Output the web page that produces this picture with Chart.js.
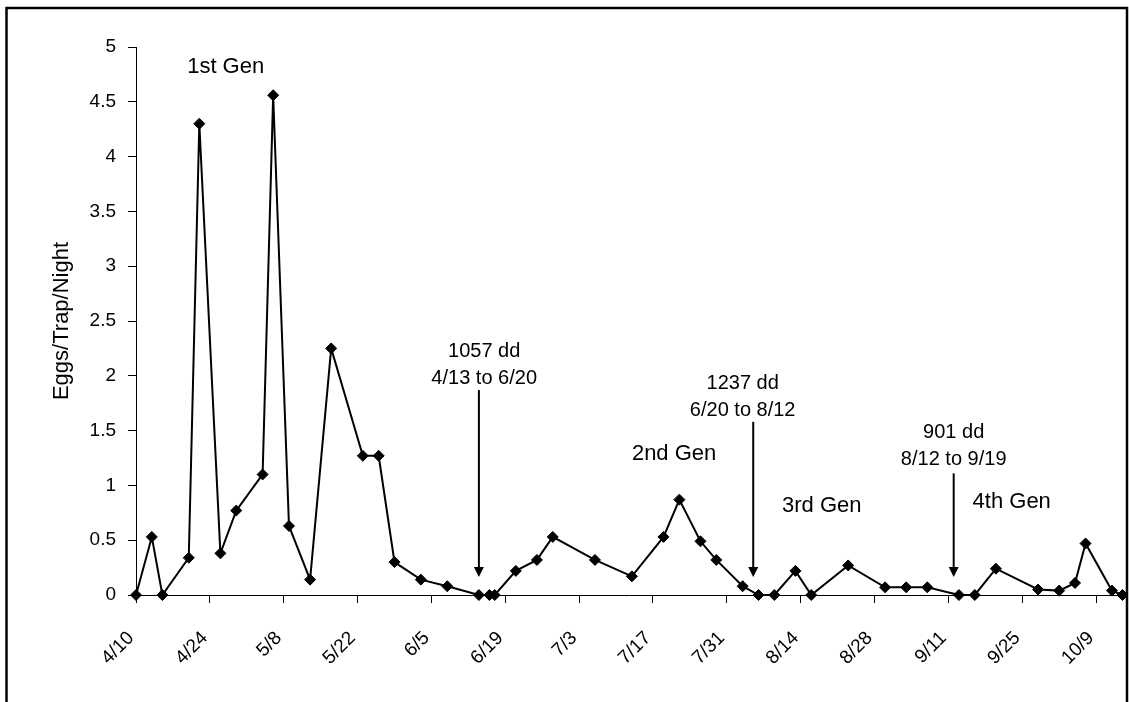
<!DOCTYPE html>
<html>
<head>
<meta charset="utf-8">
<title>Eggs/Trap/Night</title>
<script src="https://cdn.jsdelivr.net/npm/chart.js@4.4.1/dist/chart.umd.min.js"></script>
<style>
  body { margin: 0; background: #fff; }
  #wrap { width: 1129px; height: 702px; }
</style>
</head>
<body>
<div id="wrap"><canvas id="eggChart" width="1129" height="702"></canvas></div>
<script>
// sample dates (month/day) and eggs per trap per night
const sampleDates = ['4/10', '4/13', '4/15', '4/20', '4/22', '4/26', '4/29', '5/4', '5/6', '5/9',
    '5/13', '5/17', '5/23', '5/26', '5/29', '6/3', '6/8', '6/14', '6/16', '6/17',
    '6/21', '6/25', '6/28', '7/6', '7/13', '7/19', '7/22', '7/26', '7/29', '8/3',
    '8/6', '8/9', '8/13', '8/16', '8/23', '8/30', '9/3', '9/7', '9/13', '9/16',
    '9/20', '9/28', '10/2', '10/5', '10/7', '10/12', '10/14'];
const eggsPerTrap = [0, 0.53, 0, 0.34, 4.30, 0.38, 0.77, 1.1, 4.56, 0.63,
    0.14, 2.25, 1.27, 1.27, 0.30, 0.14, 0.08, 0, 0, 0,
    0.22, 0.32, 0.53, 0.32, 0.17, 0.53, 0.87, 0.49, 0.32, 0.08,
    0, 0, 0.22, 0, 0.27, 0.07, 0.07, 0.07, 0, 0,
    0.24, 0.05, 0.04, 0.11, 0.47, 0.04, 0];

// axis range: first day, last day, label every two weeks
const firstDate = '4/10';
const lastDate = '10/14';
const tickEveryDays = 14;
const yMax = 5;
const yStep = 0.5;

// text labels on the plot (date, level)
const genLabels = [
    { text: '1st Gen', at: '4/27', level: 4.82 },
    { text: '2nd Gen', at: '7/21', level: 1.29 },
    { text: '3rd Gen', at: '8/18', level: 0.81 },
    { text: '4th Gen', at: '9/23', level: 0.85 }
];
const ddNotes = [
    { lines: ['1057 dd', '4/13 to 6/20'], at: '6/15', level: 2.22, arrowAt: '6/14', arrowTop: 1.87 },
    { lines: ['1237 dd', '6/20 to 8/12'], at: '8/3', level: 1.93, arrowAt: '8/5', arrowTop: 1.58 },
    { lines: ['901 dd', '8/12 to 9/19'], at: '9/12', level: 1.48, arrowAt: '9/12', arrowTop: 1.11 }
];

const monthStart = {4: 0, 5: 30, 6: 61, 7: 91, 8: 122, 9: 153, 10: 183};
function dayOf(md) {
    const parts = md.split('/').map(Number);
    return monthStart[parts[0]] + parts[1] - 10;
}
function dateLabel(day) {
    const d = new Date(2001, 3, 10 + day);
    return (d.getMonth() + 1) + '/' + d.getDate();
}

const points = sampleDates.map(function (md, i) {
    return { x: dayOf(md), y: eggsPerTrap[i] };
});

const FONT = '"Liberation Sans", Arial, sans-serif';

const annotate = {
    id: 'annotate',
    afterDraw(chart) {
        const ctx = chart.ctx;
        const x = chart.scales.x;
        const y = chart.scales.y;
        ctx.save();
        ctx.fillStyle = '#000';
        ctx.strokeStyle = '#000';
        ctx.textAlign = 'center';
        ctx.textBaseline = 'middle';

        ctx.font = '22px ' + FONT;
        genLabels.forEach(function (g) {
            ctx.fillText(g.text, x.getPixelForValue(dayOf(g.at)), y.getPixelForValue(g.level));
        });

        ctx.font = '20px ' + FONT;
        ddNotes.forEach(function (n) {
            const tx = x.getPixelForValue(dayOf(n.at));
            const ty = y.getPixelForValue(n.level);
            ctx.fillText(n.lines[0], tx, ty);
            ctx.fillText(n.lines[1], tx, ty + 27);

            // arrow down to the axis
            const ax = x.getPixelForValue(dayOf(n.arrowAt));
            const top = y.getPixelForValue(n.arrowTop);
            const tip = y.getPixelForValue(0) - 18;
            ctx.lineWidth = 2;
            ctx.beginPath();
            ctx.moveTo(ax, top);
            ctx.lineTo(ax, tip - 8);
            ctx.stroke();
            ctx.beginPath();
            ctx.moveTo(ax - 5, tip - 10);
            ctx.lineTo(ax + 5, tip - 10);
            ctx.lineTo(ax, tip);
            ctx.closePath();
            ctx.fill();
        });

        // outer frame
        ctx.lineWidth = 2.5;
        ctx.strokeRect(6.5, 8, 1120.5, 720);
        ctx.restore();
    }
};

new Chart(document.getElementById('eggChart'), {
    type: 'line',
    data: {
        datasets: [{
            label: 'Eggs/Trap/Night',
            data: points,
            borderColor: '#000',
            borderWidth: 2,
            backgroundColor: '#000',
            pointStyle: 'rectRot',
            pointRadius: 5.5,
            pointBorderWidth: 1,
            pointBackgroundColor: '#000',
            pointBorderColor: '#000',
            tension: 0,
            clip: false
        }]
    },
    options: {
        responsive: false,
        animation: false,
        layout: { padding: { left: 0, top: 47, right: 3, bottom: 0 } },
        plugins: {
            legend: { display: false },
            tooltip: { enabled: false }
        },
        scales: {
            x: {
                type: 'linear',
                min: dayOf(firstDate),
                max: dayOf(lastDate),
                afterFit: function (s) {
                    s.height = 107;
                    s.paddingLeft = 0;
                    s.paddingRight = 0;
                },
                border: { display: true, color: '#000', width: 1 },
                grid: { display: true, drawOnChartArea: false, drawTicks: true, tickLength: 8, color: '#000' },
                ticks: {
                    stepSize: tickEveryDays,
                    includeBounds: false,
                    autoSkip: false,
                    maxRotation: 45,
                    minRotation: 45,
                    padding: 24,
                    labelOffset: -5,
                    color: '#000',
                    font: { family: FONT, size: 19 },
                    callback: function (v) { return dateLabel(v); }
                }
            },
            y: {
                min: 0,
                max: yMax,
                afterFit: function (s) {
                    s.width = 136;
                    s.paddingTop = 0;
                    s.paddingBottom = 0;
                },
                border: { display: true, color: '#000', width: 1 },
                grid: { display: true, drawOnChartArea: false, drawTicks: true, tickLength: 8, color: '#000' },
                ticks: {
                    stepSize: yStep,
                    padding: 12,
                    color: '#000',
                    font: { family: FONT, size: 19 },
                    callback: function (v) { return String(v); }
                },
                title: {
                    display: true,
                    text: 'Eggs/Trap/Night',
                    color: '#000',
                    font: { family: FONT, size: 22 },
                    padding: { top: 49, bottom: 0 }
                }
            }
        }
    },
    plugins: [annotate]
});
</script>
</body>
</html>
